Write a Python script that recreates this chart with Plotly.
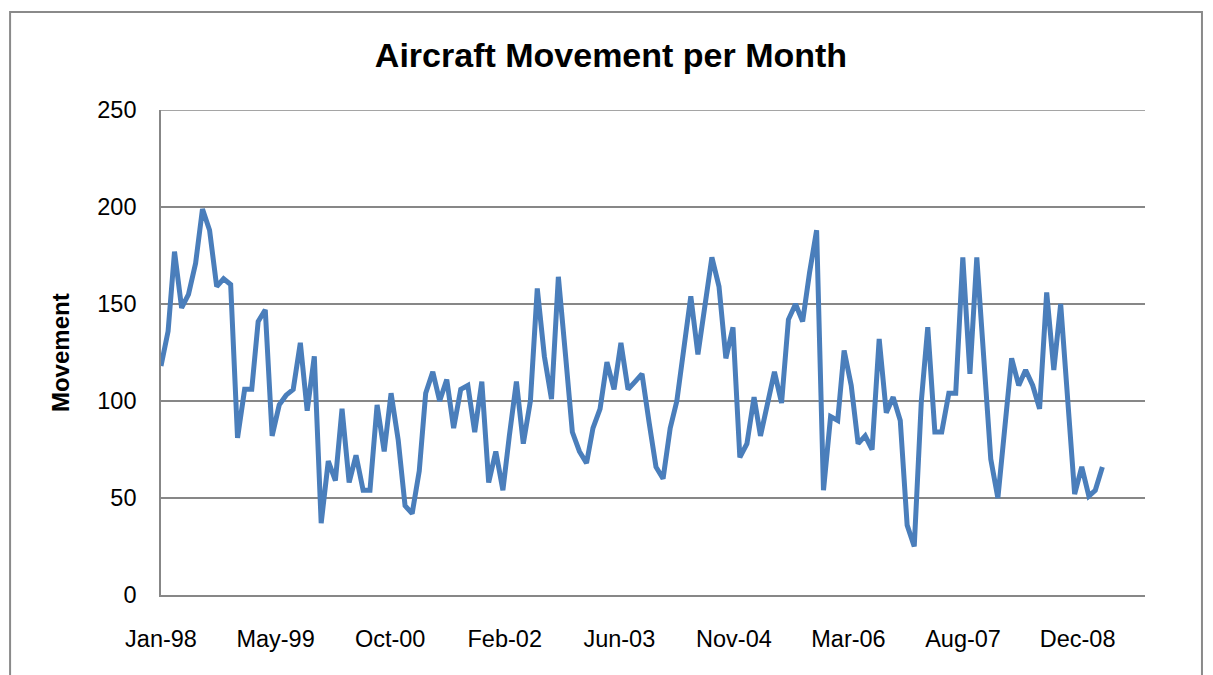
import pandas as pd
import plotly.graph_objects as go

# ---- data ----
start_month = "1998-01-01"
n_months = 136
movement = [
    118, 136, 177, 148, 155, 171, 199, 188, 159, 163, 160, 81,
    106, 106, 141, 147, 82, 98, 103, 106, 130, 95, 123, 37,
    69, 59, 96, 58, 72, 54, 54, 98, 74, 104, 80, 46,
    42, 64, 104, 115, 100, 111, 86, 106, 108, 84, 110, 58,
    74, 54, 82, 110, 78, 100, 158, 123, 101, 164, 124, 84,
    74, 68, 86, 96, 120, 106, 130, 106, 110, 114, 89, 66,
    60, 86, 100, 127, 154, 124, 150, 174, 159, 122, 138, 71,
    78, 102, 82, 98, 115, 99, 142, 150, 141, 166, 188, 54,
    92, 90, 126, 108, 78, 82, 75, 132, 94, 102, 90, 36,
    25, 100, 138, 84, 84, 104, 104, 174, 114, 174, 120, 70,
    50, 85, 122, 108, 116, 108, 96, 156, 116, 150, 100, 52,
    66, 51, 54, 66,
]
tick_labels = ["Jan-98", "May-99", "Oct-00", "Feb-02", "Jun-03",
               "Nov-04", "Mar-06", "Aug-07", "Dec-08"]
tick_step_days = 500
y_ticks = [0, 50, 100, 150, 200, 250]

months = pd.date_range(start_month, periods=n_months, freq="MS")
t0 = pd.Timestamp(start_month)
tick_vals = [t0 + pd.Timedelta(days=tick_step_days * k) for k in range(len(tick_labels))]

FONT = "Liberation Sans, Arial, sans-serif"
GRID = "#878787"

# page offset introduced by the browser's default body margin
OFF = 8
PAGE_W, PAGE_H = 1213, 675
W, H = PAGE_W - OFF, PAGE_H - OFF
# plot-area edges in page pixels
L, R, T, B = 160.5, 1145, 110, 595
l, r, t, b = L - OFF, W - (R - OFF), T - OFF, H - (B - OFF)

def px_x(page_x):
    return (page_x - L) / (R - L)

def px_y(page_y):
    return (B - page_y) / (B - T)

fig = go.Figure()
fig.add_trace(go.Scatter(
    x=months, y=movement, mode="lines",
    line=dict(color="#4A7EBB", width=5),
    hoverinfo="x+y", showlegend=False,
))

fig.update_layout(
    width=W, height=H,
    margin=dict(l=l, r=r, t=t, b=b, pad=0),
    paper_bgcolor="white", plot_bgcolor="white",
    font=dict(family=FONT, color="black"),
    title=dict(text="Aircraft Movement per Month",
               font=dict(family=FONT, size=34, color="black", weight="bold"),
               x=(611 - OFF) / W, xanchor="center",
               y=1 - (55 - OFF) / H, yanchor="middle"),
)

fig.update_xaxes(
    type="date",
    range=[t0, t0 + pd.Timedelta(days=4294)],
    tickmode="array", tickvals=tick_vals, ticktext=tick_labels,
    tickfont=dict(family=FONT, size=23.5, color="black"),
    showgrid=False, zeroline=False,
    showline=True, linecolor=GRID, linewidth=1.6,
    ticks="", ticklabelstandoff=22,
)
fig.update_yaxes(
    range=[0, 250], tickmode="array", tickvals=y_ticks,
    tickfont=dict(family=FONT, size=23.5, color="black"),
    showgrid=True, gridcolor=GRID, gridwidth=1.6,
    zeroline=False,
    showline=True, linecolor=GRID, linewidth=1.6,
    ticks="", ticklabelstandoff=18,
)

# top gridline (at the edge of the value range)
fig.add_shape(type="line", xref="paper", yref="y", x0=0, x1=1, y0=250, y1=250,
              line=dict(color=GRID, width=1.6), layer="below")

fig.add_annotation(
    text="<b>Movement</b>", textangle=-90,
    xref="paper", yref="paper",
    x=px_x(60), y=0.5, xanchor="center", yanchor="middle",
    showarrow=False, font=dict(family=FONT, size=24, color="black"),
)

# outer chart-area border
fig.add_shape(
    type="rect", xref="paper", yref="paper",
    x0=px_x(9.5), x1=px_x(1202), y0=-0.3, y1=px_y(12),
    line=dict(color="#8a8a8a", width=2), layer="below",
)

fig.write_html("out.html")
